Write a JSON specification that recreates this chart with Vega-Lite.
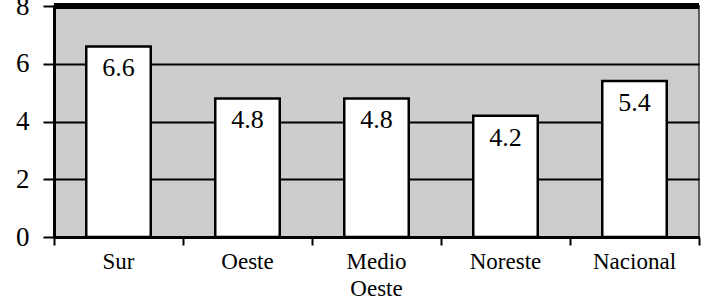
{
  "$schema": "https://vega.github.io/schema/vega-lite/v6.json",
  "autosize": {"type": "none"},
  "width": 645,
  "height": 231,
  "padding": {"left": 54, "top": 6, "right": 13, "bottom": 65},
  "background": "white",
  "config": {
    "view": {"fill": "#cccccc", "stroke": "#333333", "strokeWidth": 1.5},
    "font": "Liberation Serif"
  },
  "data": {
    "values": [
      {"region": "Sur", "value": 6.6},
      {"region": "Oeste", "value": 4.8},
      {"region": "Medio Oeste", "value": 4.8},
      {"region": "Noreste", "value": 4.2},
      {"region": "Nacional", "value": 5.4}
    ]
  },
  "encoding": {
    "x": {
      "field": "region",
      "type": "nominal",
      "sort": null,
      "scale": {"paddingInner": 0, "paddingOuter": 0},
      "axis": {
        "title": null,
        "labelAngle": 0,
        "labelFont": "Liberation Serif",
        "labelFontSize": 23,
        "labelColor": "black",
        "labelBaseline": "top",
        "labelPadding": 5,
        "labelLineHeight": 27,
        "labelExpr": "split(datum.label, ' ')",
        "domainColor": "black",
        "domainWidth": 3,
        "tickColor": "black",
        "tickWidth": 2,
        "tickSize": 8,
        "bandPosition": 1,
        "tickExtra": true,
        "grid": false
      }
    },
    "y": {
      "field": "value",
      "type": "quantitative",
      "scale": {"domain": [0, 8]},
      "axis": {
        "title": null,
        "values": [0, 2, 4, 6, 8],
        "labelFont": "Liberation Serif",
        "labelFontSize": 27,
        "labelColor": "black",
        "labelPadding": 14,
        "domainColor": "black",
        "domainWidth": 3,
        "tickColor": "black",
        "tickWidth": 2,
        "tickSize": 11,
        "grid": true,
        "gridColor": "black",
        "gridWidth": 2,
        "gridOpacity": 1
      }
    }
  },
  "layer": [
    {
      "mark": {"type": "bar", "width": {"band": 0.5}, "fill": "white", "stroke": "black", "strokeWidth": 2.5}
    },
    {
      "mark": {"type": "text", "baseline": "top", "dy": 9, "fontSize": 26, "font": "Liberation Serif", "color": "black"},
      "encoding": {"text": {"field": "value", "type": "quantitative", "format": ".1f"}}
    },
    {
      "mark": {"type": "rule", "color": "black", "strokeWidth": 6},
      "encoding": {"y": {"datum": 8}, "x": null}
    }
  ]
}
